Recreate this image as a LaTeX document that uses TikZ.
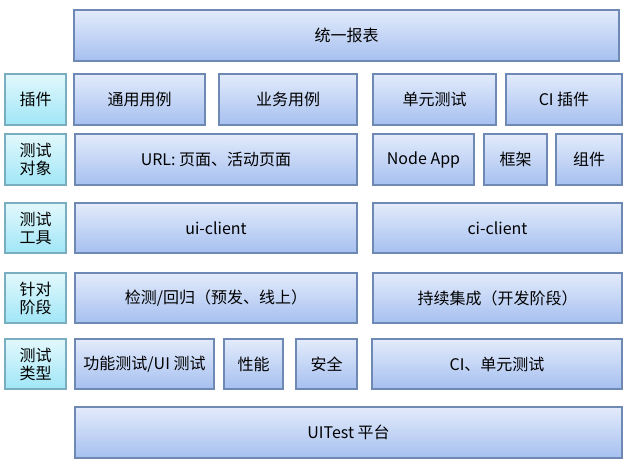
\documentclass[tikz,border=0pt]{standalone}
\usepackage{fontspec}
\setmainfont{Noto Sans CJK SC}
\usetikzlibrary{shadows}
\definecolor{btop}{HTML}{E3EBFB}
\definecolor{bbot}{HTML}{A6C0F0}
\definecolor{bdraw}{HTML}{6F89B5}
\definecolor{ctop}{HTML}{E2F8FC}
\definecolor{cbot}{HTML}{A0E6F7}
\definecolor{cdraw}{HTML}{79AEC0}
\tikzset{
  boxbase/.style={rectangle, inner sep=0pt, line width=0.8pt, font=\fontsize{12}{13.5}\selectfont, text=black, align=center,
    drop shadow={opacity=0.25, shadow xshift=0.6pt, shadow yshift=-0.8pt}},
  bluebox/.style={boxbase, draw=bdraw, top color=btop, bottom color=bbot},
  cyanbox/.style={boxbase, draw=cdraw, top color=ctop, bottom color=cbot},
}
\newcommand{\bx}[7]{%
  \node[#7, minimum width={(#4-#2)*0.75pt}, minimum height={(#5-#3)*0.75pt}] (#1) at ({(#2+#4)/2},{(#3+#5)/2}) {#6};}
\begin{document}
\begin{tikzpicture}[x=0.75pt, y=-0.75pt]
\useasboundingbox (0,0) rectangle (625,465);
\fill[white] (0,0) rectangle (625,465);
% top
\bx{report}{74}{10}{619}{61}{统一报表}{bluebox}
% row 1
\bx{l1}{5}{74}{66}{125}{插件}{cyanbox}
\bx{r1a}{74}{74}{205}{125}{通用用例}{bluebox}
\bx{r1b}{219}{74}{357}{125}{业务用例}{bluebox}
\bx{r1c}{373}{74}{496}{125}{单元测试}{bluebox}
\bx{r1d}{506}{74}{622}{125}{CI 插件}{bluebox}
% row 2
\bx{l2}{5}{134}{66}{185}{测试\\对象}{cyanbox}
\bx{r2a}{75}{134}{357}{185}{URL: 页面、活动页面}{bluebox}
\bx{r2b}{373}{134}{474}{185}{Node App}{bluebox}
\bx{r2c}{484}{134}{547}{185}{框架}{bluebox}
\bx{r2d}{556}{134}{622}{185}{组件}{bluebox}
% row 3
\bx{l3}{5}{203}{66}{253}{测试\\工具}{cyanbox}
\bx{r3a}{75}{203}{357}{253}{ui-client}{bluebox}
\bx{r3b}{373}{203}{622}{253}{ci-client}{bluebox}
% row 4
\bx{l4}{5}{273}{66}{323}{针对\\阶段}{cyanbox}
\bx{r4a}{75}{273}{357}{323}{检测/回归（预发、线上）}{bluebox}
\bx{r4b}{373}{273}{622}{323}{持续集成（开发阶段）}{bluebox}
% row 5
\bx{l5}{5}{339}{66}{389}{测试\\类型}{cyanbox}
\bx{r5a}{75}{339}{214}{389}{功能测试/UI 测试}{bluebox}
\bx{r5b}{224}{339}{283}{389}{性能}{bluebox}
\bx{r5c}{296}{339}{357}{389}{安全}{bluebox}
\bx{r5d}{372}{339}{622}{389}{CI、单元测试}{bluebox}
% bottom
\bx{platform}{75}{407}{622}{458}{UITest 平台}{bluebox}
\end{tikzpicture}
\end{document}
